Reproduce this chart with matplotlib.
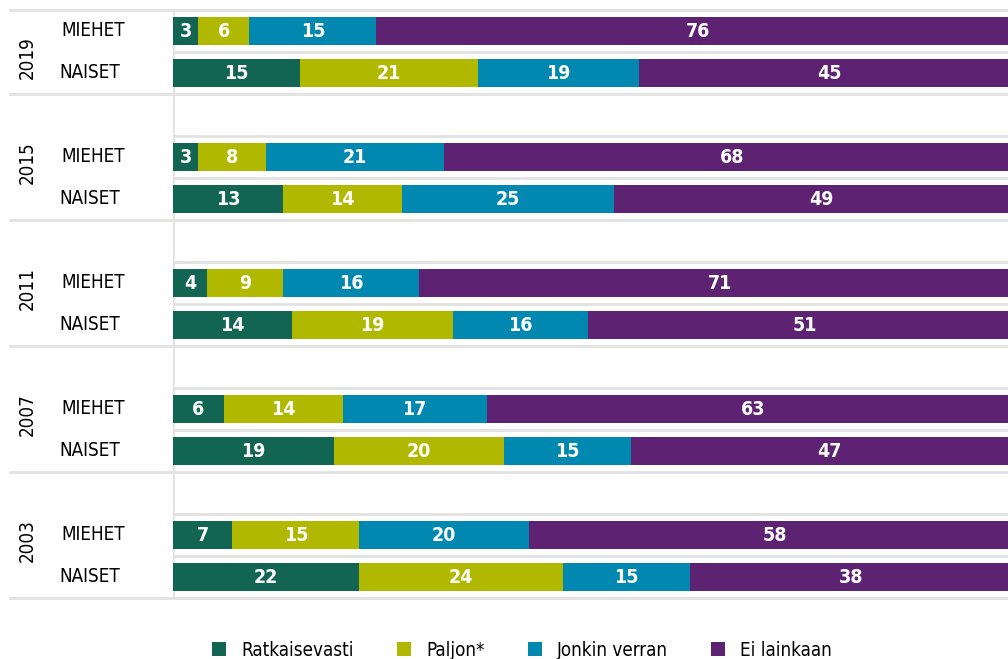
import numpy as np
import matplotlib
matplotlib.use('Agg')
import matplotlib.pyplot as plt
from matplotlib.patches import Patch
from matplotlib.transforms import blended_transform_factory

plt.rcParams['font.family'] = ['DejaVu Sans']
plt.rcParams['font.stretch'] = 'condensed'

# data
years = ['2019', '2015', '2011', '2007', '2003']
groups = ['MIEHET', 'NAISET']
series = ['Ratkaisevasti', 'Paljon*', 'Jonkin verran', 'Ei lainkaan']
ratkaisevasti_m = [3, 3, 4, 6, 7]
ratkaisevasti_n = [15, 13, 14, 19, 22]
paljon_m = [6, 8, 9, 14, 15]
paljon_n = [21, 14, 19, 20, 24]
jonkin_m = [15, 21, 16, 17, 20]
jonkin_n = [19, 25, 16, 15, 15]
ei_m = [76, 68, 71, 63, 58]
ei_n = [45, 49, 51, 47, 38]

colors = ['#136553', '#b0b900', '#0088b0', '#5e2273']
grid_col = '#e2e2e2'

W, H = 1008, 659
fig = plt.figure(figsize=(W / 100, H / 100), dpi=100)
ax_left, ax_top, ax_bot = 173, 10, 598
ax = fig.add_axes([ax_left / W, (H - ax_bot) / H, 1 - ax_left / W, (ax_bot - ax_top) / H])

# row layout: 2019 has 2 rows, the others have a blank row on top
rows_y = []
group_bounds = [-0.5]
pos = 0
for i, yr in enumerate(years):
    if i > 0:
        pos += 1
    rows_y.append((pos, pos + 1))
    pos += 2
    group_bounds.append(pos - 0.5)
n_rows = pos

m_vals = np.array([ratkaisevasti_m, paljon_m, jonkin_m, ei_m])
n_vals = np.array([ratkaisevasti_n, paljon_n, jonkin_n, ei_n])

# bars run past the right edge, like in the original
px_per_unit = 8.475
ax.set_xlim(0, (W - ax_left) / px_per_unit)
ax.set_ylim(n_rows - 0.5, -0.5)

for i, yr in enumerate(years):
    for ypos, vals in zip(rows_y[i], [m_vals[:, i], n_vals[:, i]]):
        left = 0
        for k, v in enumerate(vals):
            ax.barh(ypos, v, left=left, height=0.66, color=colors[k], zorder=3,
                    edgecolor='none')
            ax.text(left + v / 2, ypos + 0.02, str(v), ha='center', va='center',
                    color='white', fontsize=14, fontweight='bold', zorder=4)
            left += v

# gridlines
ext = -(ax_left - 10) / (W - ax_left)
for b in np.arange(-0.5, n_rows, 1.0):
    if b in group_bounds:
        ax.axhline(b, xmin=ext, xmax=1, color=grid_col, lw=2, clip_on=False, zorder=1)
    else:
        ax.axhline(b, color=grid_col, lw=2, zorder=1)
ax.axvline(0, color=grid_col, lw=2, zorder=1)

trans = blended_transform_factory(ax.transAxes, ax.transData)
for i, yr in enumerate(years):
    ym, yn = rows_y[i]
    center = (group_bounds[i] + group_bounds[i + 1]) / 2
    ax.text((27 - ax_left) / (W - ax_left), center + 0.14, yr, rotation=90,
            ha='center', va='center', fontsize=13.5, transform=trans)
    for ypos, g in zip((ym, yn), groups):
        x = 61 if g == 'MIEHET' else 59
        ax.text((x - ax_left) / (W - ax_left), ypos, g, ha='left', va='center',
                fontsize=13.5, transform=trans)

for s in ax.spines.values():
    s.set_visible(False)
ax.set_xticks([])
ax.set_yticks([])

handles = [Patch(facecolor=c, edgecolor='none') for c in colors]
fig.legend(handles, series, loc='center', bbox_to_anchor=(522 / W, 1 - 650 / H),
           ncol=4, frameon=False, fontsize=13.5, handlelength=0.75, handleheight=0.75,
           handletextpad=0.8, columnspacing=2.3, borderaxespad=0)

fig.savefig('out.png', dpi=100)
